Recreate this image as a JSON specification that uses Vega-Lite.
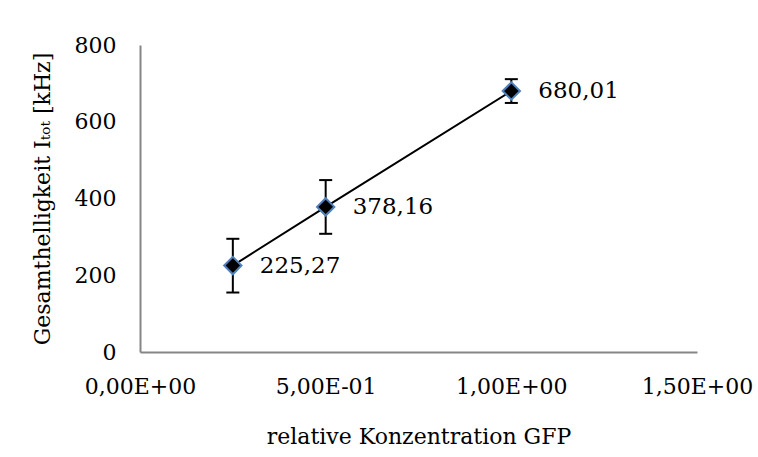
{
  "$schema": "https://vega.github.io/schema/vega-lite/v6.json",
  "width": 557,
  "height": 307,
  "autosize": {"type": "none"},
  "padding": {"left": 140, "top": 45, "right": 61, "bottom": 105},
  "background": "white",
  "config": {
    "view": {"stroke": null},
    "font": "DejaVu Serif",
    "locale": {"number": {"decimal": ",", "thousands": ".", "grouping": [3], "currency": ["", " €"]}}
  },
  "data": {
    "values": [
      {"c": 0.25, "i": 225.27, "lo": 155, "hi": 295},
      {"c": 0.5, "i": 378.16, "lo": 308, "hi": 448},
      {"c": 1.0, "i": 680.01, "lo": 649, "hi": 711}
    ]
  },
  "layer": [
    {
      "mark": {"type": "line", "color": "black", "strokeWidth": 2},
      "encoding": {
        "x": {
          "field": "c", "type": "quantitative",
          "scale": {"domain": [0, 1.5], "nice": false},
          "axis": {
            "title": "relative Konzentration GFP",
            "values": [0, 0.5, 1, 1.5],
            "ticks": false, "grid": false,
            "domainColor": "#868686", "domainWidth": 2,
            "labelFontSize": 22, "labelColor": "black", "labelPadding": 24, "labelFlush": false,
            "labelExpr": "replace(replace(replace(replace(format(datum.value, '.2e'), '.', ','), 'e', 'E'), 'E+', 'E+0'), 'E-', 'E-0')",
            "titleFontSize": 22, "titleFontWeight": "normal", "titleColor": "black", "titlePadding": 29
          }
        },
        "y": {
          "field": "i", "type": "quantitative",
          "scale": {"domain": [0, 800], "nice": false},
          "axis": {
            "title": "Gesamthelligkeit Iₜₒₜ [kHz]",
            "values": [0, 200, 400, 600, 800],
            "ticks": false, "grid": false,
            "domainColor": "#868686", "domainWidth": 2,
            "labelFontSize": 22, "labelColor": "black", "labelPadding": 24,
            "titleFontSize": 22, "titleFontWeight": "normal", "titleColor": "black", "titlePadding": 20
          }
        }
      }
    },
    {
      "mark": {"type": "rule", "color": "black", "strokeWidth": 2},
      "encoding": {
        "x": {"field": "c", "type": "quantitative"},
        "y": {"field": "lo", "type": "quantitative"},
        "y2": {"field": "hi"}
      }
    },
    {
      "mark": {"type": "tick", "orient": "horizontal", "size": 13, "thickness": 2, "color": "black", "opacity": 1},
      "encoding": {
        "x": {"field": "c", "type": "quantitative"},
        "y": {"field": "lo", "type": "quantitative"}
      }
    },
    {
      "mark": {"type": "tick", "orient": "horizontal", "size": 13, "thickness": 2, "color": "black", "opacity": 1},
      "encoding": {
        "x": {"field": "c", "type": "quantitative"},
        "y": {"field": "hi", "type": "quantitative"}
      }
    },
    {
      "mark": {"type": "point", "shape": "diamond", "size": 300, "filled": true, "fill": "black", "stroke": "#4f81bd", "strokeWidth": 2, "opacity": 1},
      "encoding": {
        "x": {"field": "c", "type": "quantitative"},
        "y": {"field": "i", "type": "quantitative"}
      }
    },
    {
      "mark": {"type": "text", "align": "left", "baseline": "middle", "dx": 27, "fontSize": 23, "color": "black"},
      "encoding": {
        "x": {"field": "c", "type": "quantitative"},
        "y": {"field": "i", "type": "quantitative"},
        "text": {"field": "i", "type": "quantitative", "format": ".2f"}
      }
    }
  ]
}
